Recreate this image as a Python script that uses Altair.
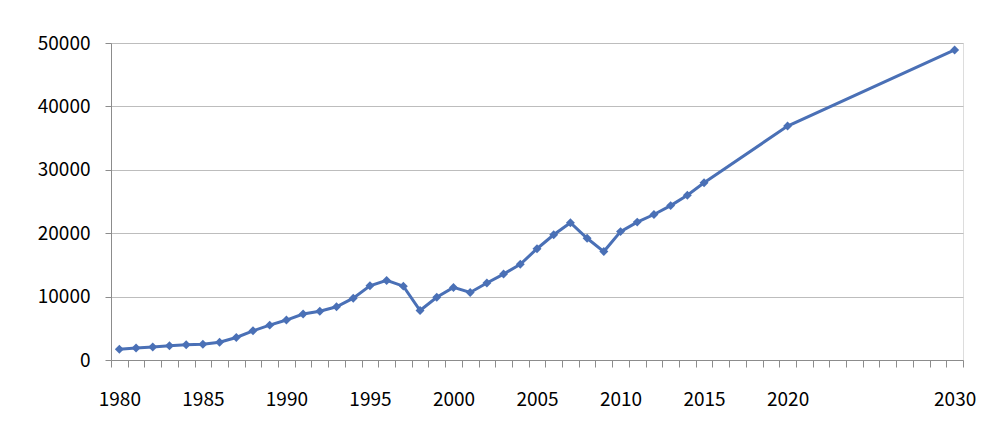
import altair as alt
import pandas as pd

years = list(range(1980, 2016)) + [2020, 2030]
values = [1700, 1900, 2050, 2250, 2400, 2480, 2800, 3550, 4600, 5500,
          6300, 7250, 7700, 8400, 9750, 11700, 12550, 11650, 7800, 9900,
          11450, 10650, 12150, 13550, 15100, 17550, 19750, 21650, 19200, 17100,
          20250, 21750, 22950, 24350, 26000, 27950, 36900, 48900]
label_years = [1980, 1985, 1990, 1995, 2000, 2005, 2010, 2015, 2020, 2030]

df = pd.DataFrame({"year": years, "value": values})

boundaries = [y - 0.5 for y in range(1980, 2032)]

font = "Noto Sans CJK KR"
color = "#4A70B6"
fs = 19

xscale = alt.Scale(domain=[1979.5, 2030.5], nice=False, zero=False)

x_ticks = alt.X(
    "year:Q",
    scale=xscale,
    axis=alt.Axis(
        title=None,
        values=boundaries,
        labels=False,
        tickSize=7,
        tickColor="#8C8C8C",
        domainColor="#8C8C8C",
        grid=False,
    ),
)
x_labels = alt.X(
    "year:Q",
    scale=xscale,
    axis=alt.Axis(
        title=None,
        orient="bottom",
        values=label_years,
        format="d",
        labelOverlap=False,
        labelFont=font,
        labelFontSize=fs,
        labelColor="#000000",
        labelPadding=30,
        ticks=False,
        domain=False,
        grid=False,
    ),
)
y = alt.Y(
    "value:Q",
    scale=alt.Scale(domain=[0, 50000], nice=False),
    axis=alt.Axis(
        title=None,
        values=[0, 10000, 20000, 30000, 40000, 50000],
        format="d",
        labelFont=font,
        labelFontSize=fs,
        labelColor="#000000",
        labelPadding=15,
        tickSize=6,
        tickColor="#8C8C8C",
        domainColor="#8C8C8C",
        gridColor="#BDBDBD",
        gridWidth=1,
    ),
)

base = alt.Chart(df)
line = base.mark_line(color=color, strokeWidth=3).encode(x=x_ticks, y=y)
pts = base.mark_point(shape="diamond", filled=True, color=color, size=80, opacity=1).encode(
    x=x_labels, y=y
)

chart = (
    alt.layer(line, pts)
    .resolve_axis(x="independent")
    .properties(width=852, height=317, autosize=alt.AutoSizeParams(type="none"),
                padding={"left": 111, "top": 43, "right": 33, "bottom": 68})
    .configure_view(stroke=None)
    .configure(background="white")
)

chart.save("out.html", embed_options={"renderer": "svg", "actions": False})
